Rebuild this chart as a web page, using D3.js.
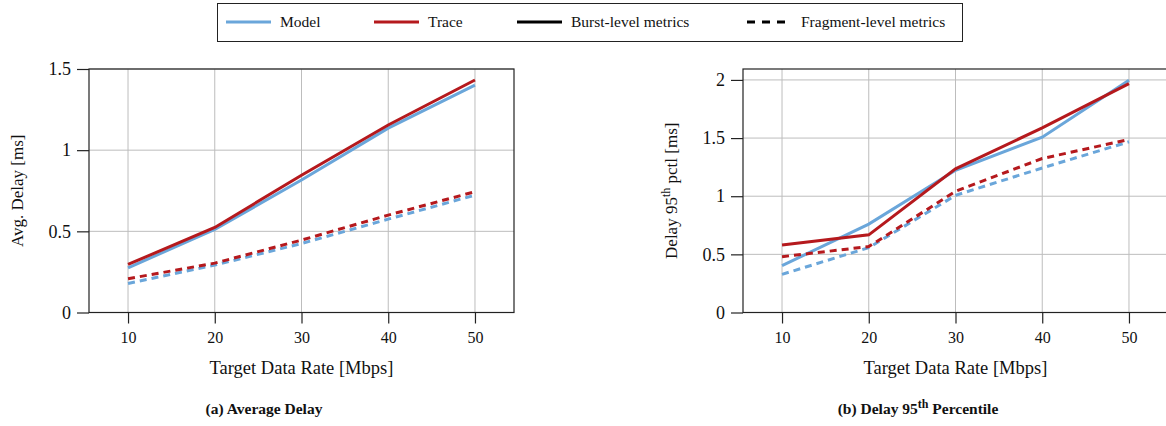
<!DOCTYPE html>
<html>
<head>
<meta charset="utf-8">
<script src="https://cdn.jsdelivr.net/npm/d3@7"></script>
<style>
  body { margin: 0; background: #fff; }
  svg text { font-family: "Liberation Serif", "DejaVu Serif", serif; fill: #111; }
</style>
</head>
<body>
<script>
// x values (target data rate, Mbps)
var rates = [10, 20, 30, 40, 50];

// (a) average delay [ms]
var avgModelBurst = [0.275, 0.512, 0.816, 1.136, 1.401];
var avgTraceBurst = [0.296, 0.524, 0.845, 1.155, 1.432];
var avgModelFrag  = [0.179, 0.292, 0.425, 0.575, 0.723];
var avgTraceFrag  = [0.208, 0.304, 0.446, 0.600, 0.744];

// (b) delay 95th percentile [ms]
var p95ModelBurst = [0.403, 0.760, 1.223, 1.508, 1.997];
var p95TraceBurst = [0.581, 0.668, 1.235, 1.588, 1.968];
var p95ModelFrag  = [0.328, 0.558, 1.007, 1.243, 1.468];
var p95TraceFrag  = [0.480, 0.567, 1.042, 1.324, 1.488];

var avgTicks = [0, 0.5, 1, 1.5];
var p95Ticks = [0, 0.5, 1, 1.5, 2];

var blue = "#6aa6da", red = "#b5191d";

var legendItems = [
  {label: "Model", color: blue, dash: null},
  {label: "Trace", color: red, dash: null},
  {label: "Burst-level metrics", color: "#000", dash: null},
  {label: "Fragment-level metrics", color: "#000", dash: "8,7"}
];

var svg = d3.select("body").append("svg")
    .attr("width", 1166)
    .attr("height", 426);

var panels = [
  {left: 89, right: 514, yMax: 1.5, ticks: avgTicks, ylabel: "Avg. Delay [ms]",
   series: [
     {v: avgModelBurst, c: blue, dash: null},
     {v: avgModelFrag, c: blue, dash: "7,5"},
     {v: avgTraceBurst, c: red, dash: null},
     {v: avgTraceFrag, c: red, dash: "7,5"}
   ], caption: "(a) Average Delay"},
  {left: 743, right: 1168, yMax: 2.094, ticks: p95Ticks, ylabel: "p95",
   series: [
     {v: p95ModelBurst, c: blue, dash: null},
     {v: p95ModelFrag, c: blue, dash: "7,5"},
     {v: p95TraceBurst, c: red, dash: null},
     {v: p95TraceFrag, c: red, dash: "7,5"}
   ], caption: "p95cap"}
];

var plotTop = 69, plotBottom = 312.5;

panels.forEach(function(p) {
  var x = d3.scaleLinear().domain([5.5, 54.5]).range([p.left, p.right]);
  var y = d3.scaleLinear().domain([0, p.yMax]).range([plotBottom, plotTop]);
  var g = svg.append("g");

  // grid
  g.selectAll(".vgrid").data(rates).enter().append("line")
    .attr("x1", function(d) { return x(d); }).attr("x2", function(d) { return x(d); })
    .attr("y1", plotTop).attr("y2", plotBottom)
    .style("stroke", "#bdbdbd").style("stroke-width", 1);
  g.selectAll(".hgrid").data(p.ticks).enter().append("line")
    .attr("x1", p.left).attr("x2", p.right)
    .attr("y1", function(d) { return y(d); }).attr("y2", function(d) { return y(d); })
    .style("stroke", "#bdbdbd").style("stroke-width", 1);

  // frame
  g.append("rect")
    .attr("x", p.left).attr("y", plotTop)
    .attr("width", p.right - p.left).attr("height", plotBottom - plotTop)
    .style("fill", "none").style("stroke", "#222").style("stroke-width", 1.2);

  // axes
  var xAxis = d3.axisBottom(x).tickValues(rates).tickSize(11).tickPadding(8);
  var yAxis = d3.axisLeft(y).tickValues(p.ticks).tickSize(12).tickPadding(6)
    .tickFormat(function(d) { return d3.format("")(d); });
  var xg = g.append("g").attr("transform", "translate(0," + plotBottom + ")").call(xAxis);
  var yg = g.append("g").attr("transform", "translate(" + p.left + ",0)").call(yAxis);
  [xg, yg].forEach(function(a) {
    a.select(".domain").remove();
    a.selectAll("line").style("stroke", "#222").style("stroke-width", 1.2);
    a.selectAll("text").style("font-family", "Liberation Serif, serif").style("fill", "#111");
  });
  xg.selectAll("text").style("font-size", "16px");
  yg.selectAll("text").style("font-size", "18px");

  // lines
  var line = d3.line()
    .x(function(d, i) { return x(rates[i]); })
    .y(function(d) { return y(d); });
  p.series.forEach(function(s) {
    g.append("path").datum(s.v)
      .attr("d", line)
      .style("fill", "none")
      .style("stroke", s.c)
      .style("stroke-width", 3)
      .style("stroke-dasharray", s.dash);
  });

  var cxa = (x(10) + x(50)) / 2;

  // x label
  g.append("text").attr("x", cxa).attr("y", 374)
    .attr("text-anchor", "middle").style("font-size", "18.5px")
    .text("Target Data Rate [Mbps]");

  // y label
  var yl = g.append("text")
    .attr("transform", "translate(" + (p.left - 66) + "," + ((plotTop + plotBottom) / 2) + ") rotate(-90)")
    .attr("text-anchor", "middle").style("font-size", "17px");
  if (p.ylabel === "p95") {
    yl.append("tspan").text("Delay 95");
    yl.append("tspan").attr("dy", -7).style("font-size", "12px").text("th");
    yl.append("tspan").attr("dy", 7).text(" pctl [ms]");
  } else {
    yl.text(p.ylabel);
  }

  // caption (centred under the figure column, not the axis)
  var cap = g.append("text").attr("x", p.left + 175).attr("y", 414)
    .attr("text-anchor", "middle").style("font-size", "15.5px").style("font-weight", "bold");
  if (p.caption === "p95cap") {
    cap.append("tspan").text("(b) Delay 95");
    cap.append("tspan").attr("dy", -6).style("font-size", "12px").text("th");
    cap.append("tspan").attr("dy", 6).text(" Percentile");
  } else {
    cap.text(p.caption);
  }
});

// legend
var lg = svg.append("g");
lg.append("rect")
  .attr("x", 217.5).attr("y", 3.5).attr("width", 745).attr("height", 38)
  .style("fill", "#fff").style("stroke", "#222").style("stroke-width", 1);
var legendX = [226, 374, 517, 747];
legendItems.forEach(function(d, i) {
  lg.append("line")
    .attr("x1", legendX[i]).attr("x2", legendX[i] + (d.dash ? 38 : 45))
    .attr("y1", 22).attr("y2", 22)
    .style("stroke", d.color).style("stroke-width", 3)
    .style("stroke-dasharray", d.dash);
  lg.append("text")
    .attr("x", legendX[i] + 54).attr("y", 27)
    .style("font-size", "15.5px")
    .text(d.label);
});
</script>
</body>
</html>
